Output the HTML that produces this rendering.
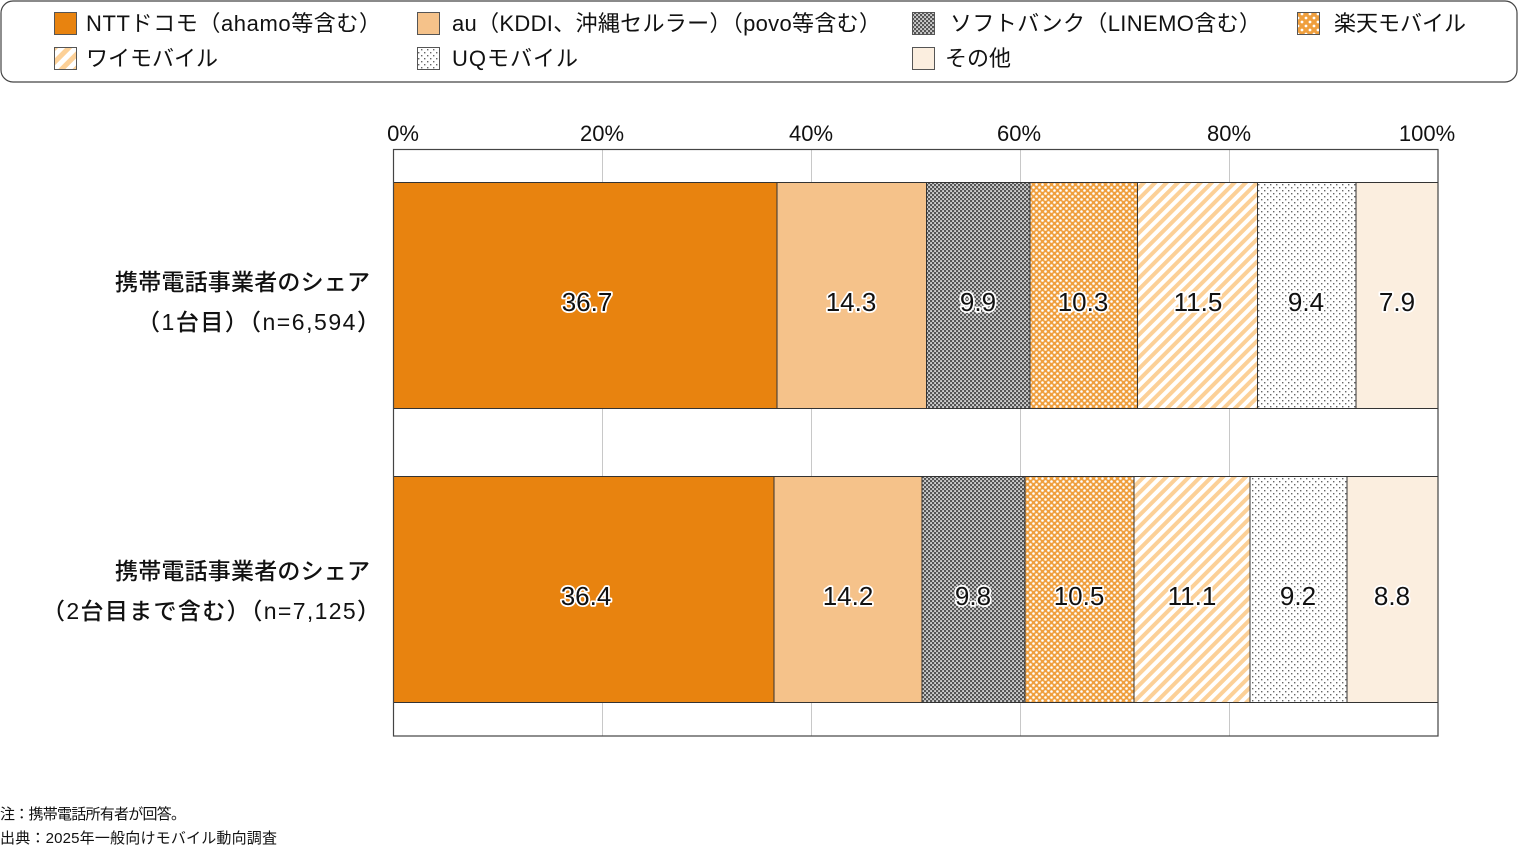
<!DOCTYPE html>
<html><head><meta charset="utf-8"><style>
html,body{margin:0;padding:0;background:#fff;}
svg{display:block;font-family:"Liberation Sans","Noto Sans CJK JP",sans-serif;}
.lg{font-size:22px;fill:#111;}
.ax{font-size:22px;fill:#111;text-anchor:middle;}
.cat{font-size:23px;fill:#111;font-weight:500;}
.val{font-size:26px;fill:#111;text-anchor:middle;stroke:#fff;stroke-width:3.5px;paint-order:stroke;stroke-linejoin:round;}
.fn{font-size:15px;fill:#111;}
</style></head><body>
<svg width="1519" height="849" viewBox="0 0 1519 849" xmlns="http://www.w3.org/2000/svg">
<defs>
<pattern id="sb" width="4" height="4" patternUnits="userSpaceOnUse">
<rect width="4" height="4" fill="#555"/>
<rect x="0.25" y="0.25" width="1.6" height="1.6" fill="#fff"/>
<rect x="2.25" y="2.25" width="1.6" height="1.6" fill="#fff"/>
</pattern>
<pattern id="rk" width="6" height="6" patternUnits="userSpaceOnUse">
<rect width="6" height="6" fill="#EF9F3E"/>
<circle cx="1.5" cy="1.5" r="1.3" fill="#fff"/>
<circle cx="4.5" cy="4.5" r="1.3" fill="#fff"/>
</pattern>
<pattern id="uq" width="6" height="6" patternUnits="userSpaceOnUse">
<rect width="6" height="6" fill="#fff"/>
<rect x="1" y="1" width="1.4" height="1.4" fill="#666"/>
<rect x="4" y="4" width="1.4" height="1.4" fill="#666"/>
</pattern>
<pattern id="ym" width="8" height="8" patternUnits="userSpaceOnUse" patternTransform="rotate(45)">
<rect width="8" height="8" fill="#fff"/>
<rect width="4" height="8" fill="#FCD097"/>
</pattern>
<pattern id="ymL" width="10" height="10" patternUnits="userSpaceOnUse" patternTransform="rotate(45)">
<rect width="10" height="10" fill="#fff"/>
<rect width="5" height="10" fill="#FCD097"/>
</pattern>
<pattern id="rkL" width="8" height="8" patternUnits="userSpaceOnUse">
<rect width="8" height="8" fill="#EF9F3E"/>
<circle cx="2" cy="2" r="1.4" fill="#fff"/>
<circle cx="6" cy="6" r="1.4" fill="#fff"/>
</pattern>
</defs>

<!-- Legend -->
<rect x="1" y="1" width="1516" height="81" rx="12" ry="12" fill="#fff" stroke="#444" stroke-width="1.2"/>
<g stroke="#555" stroke-width="1">
<rect x="54.5" y="12.5" width="22" height="22" fill="#E8830F"/>
<rect x="417.5" y="12.5" width="22" height="22" fill="#F5C28A"/>
<rect x="912.5" y="12.5" width="22" height="22" fill="url(#sb)"/>
<rect x="1297.5" y="12.5" width="22" height="22" fill="url(#rkL)"/>
<rect x="54.5" y="47.5" width="22" height="22" fill="url(#ymL)"/>
<rect x="417.5" y="47.5" width="22" height="22" fill="url(#uq)"/>
<rect x="912.5" y="47.5" width="22" height="22" fill="#FBEEDF"/>
</g>
<text class="lg" x="86" y="31" textLength="295" lengthAdjust="spacing">NTTドコモ（ahamo等含む）</text>
<text class="lg" x="452" y="31" textLength="429" lengthAdjust="spacing">au（KDDI、沖縄セルラー）（povo等含む）</text>
<text class="lg" x="950" y="31" textLength="311" lengthAdjust="spacing">ソフトバンク（LINEMO含む）</text>
<text class="lg" x="1334" y="31">楽天モバイル</text>
<text class="lg" x="86" y="66">ワイモバイル</text>
<text class="lg" x="452" y="66" textLength="126" lengthAdjust="spacing">UQモバイル</text>
<text class="lg" x="945" y="66">その他</text>

<!-- Axis labels -->
<text class="ax" x="403" y="141">0%</text>
<text class="ax" x="602" y="141">20%</text>
<text class="ax" x="811" y="141">40%</text>
<text class="ax" x="1019" y="141">60%</text>
<text class="ax" x="1229" y="141">80%</text>
<text class="ax" x="1427" y="141">100%</text>

<!-- plot area -->
<rect x="393" y="149" width="1045" height="587" fill="#fff"/>
<g stroke="#c8c8c8" stroke-width="1">
<line x1="602.5" y1="149" x2="602.5" y2="736"/>
<line x1="811.5" y1="149" x2="811.5" y2="736"/>
<line x1="1020.5" y1="149" x2="1020.5" y2="736"/>
<line x1="1229.5" y1="149" x2="1229.5" y2="736"/>
</g>

<!-- Bar 1 -->
<g stroke="#333" stroke-width="1">
<rect x="393.5" y="182.5" width="383.5" height="226" fill="#E8830F"/>
<rect x="777" y="182.5" width="149.5" height="226" fill="#F5C28A"/>
<rect x="926.5" y="182.5" width="103.5" height="226" fill="url(#sb)"/>
<rect x="1030" y="182.5" width="107.5" height="226" fill="url(#rk)"/>
<rect x="1137.5" y="182.5" width="120" height="226" fill="url(#ym)"/>
<rect x="1257.5" y="182.5" width="98.5" height="226" fill="url(#uq)"/>
<rect x="1356" y="182.5" width="82" height="226" fill="#FBEEDF"/>
</g>
<!-- Bar 2 -->
<g stroke="#333" stroke-width="1">
<rect x="393.5" y="476.5" width="380.5" height="226" fill="#E8830F"/>
<rect x="774" y="476.5" width="148" height="226" fill="#F5C28A"/>
<rect x="922" y="476.5" width="103" height="226" fill="url(#sb)"/>
<rect x="1025" y="476.5" width="109" height="226" fill="url(#rk)"/>
<rect x="1134" y="476.5" width="116" height="226" fill="url(#ym)"/>
<rect x="1250" y="476.5" width="97" height="226" fill="url(#uq)"/>
<rect x="1347" y="476.5" width="91" height="226" fill="#FBEEDF"/>
</g>

<rect x="393.5" y="149.5" width="1044.5" height="586.5" fill="none" stroke="#444" stroke-width="1.2"/>

<!-- values -->
<text class="val" x="587" y="311">36.7</text>
<text class="val" x="851" y="311">14.3</text>
<text class="val" x="978" y="311">9.9</text>
<text class="val" x="1083" y="311">10.3</text>
<text class="val" x="1198" y="311">11.5</text>
<text class="val" x="1306" y="311">9.4</text>
<text class="val" x="1397" y="311">7.9</text>

<text class="val" x="586" y="605">36.4</text>
<text class="val" x="848" y="605">14.2</text>
<text class="val" x="973" y="605">9.8</text>
<text class="val" x="1079" y="605">10.5</text>
<text class="val" x="1192" y="605">11.1</text>
<text class="val" x="1298" y="605">9.2</text>
<text class="val" x="1392" y="605">8.8</text>

<!-- categories -->
<text class="cat" x="115" y="290" textLength="255" lengthAdjust="spacing">携帯電話事業者のシェア</text>
<text class="cat" x="137" y="330" textLength="243" lengthAdjust="spacing">（1台目）（n=6,594）</text>
<text class="cat" x="115" y="579" textLength="255" lengthAdjust="spacing">携帯電話事業者のシェア</text>
<text class="cat" x="42" y="619" textLength="338" lengthAdjust="spacing">（2台目まで含む）（n=7,125）</text>

<!-- footnotes -->
<text class="fn" x="0" y="819" textLength="186" lengthAdjust="spacing">注：携帯電話所有者が回答。</text>
<text class="fn" x="0" y="843" textLength="277" lengthAdjust="spacing">出典：2025年一般向けモバイル動向調査</text>
</svg>
</body></html>
